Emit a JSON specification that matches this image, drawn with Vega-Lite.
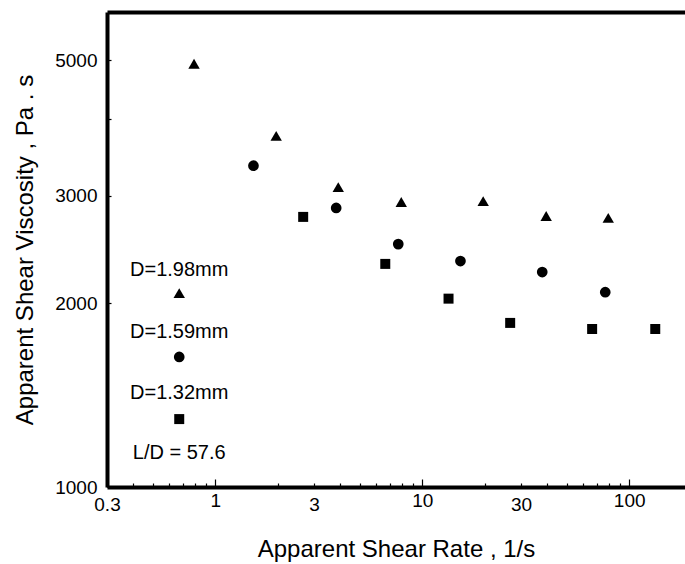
{
  "$schema": "https://vega.github.io/schema/vega-lite/v6.json",
  "width": 578,
  "height": 475,
  "autosize": {"type": "none"},
  "padding": {"left": 107, "top": 12, "right": 0, "bottom": 77},
  "background": "white",
  "config": {
    "view": {"stroke": null},
    "font": "Liberation Sans",
    "axis": {
      "labelFont": "Liberation Sans",
      "labelFontSize": 19,
      "labelColor": "black",
      "domainColor": "black",
      "domainWidth": 4,
      "tickColor": "black",
      "tickWidth": 1.2,
      "grid": false,
      "titleFont": "Liberation Sans",
      "titleFontSize": 24,
      "titleFontWeight": "normal",
      "titleColor": "black",
      "labelOverlap": false,
      "labelFlush": false
    }
  },
  "datasets": {
    "points": [
      {"series": "D=1.98mm", "rate": 0.79, "viscosity": 4935},
      {"series": "D=1.98mm", "rate": 1.97, "viscosity": 3760},
      {"series": "D=1.98mm", "rate": 3.93, "viscosity": 3100},
      {"series": "D=1.98mm", "rate": 7.92, "viscosity": 2930},
      {"series": "D=1.98mm", "rate": 19.7, "viscosity": 2940},
      {"series": "D=1.98mm", "rate": 39.7, "viscosity": 2780},
      {"series": "D=1.98mm", "rate": 79.2, "viscosity": 2760},
      {"series": "D=1.59mm", "rate": 1.53, "viscosity": 3360},
      {"series": "D=1.59mm", "rate": 3.84, "viscosity": 2865},
      {"series": "D=1.59mm", "rate": 7.66, "viscosity": 2500},
      {"series": "D=1.59mm", "rate": 15.3, "viscosity": 2345},
      {"series": "D=1.59mm", "rate": 38.0, "viscosity": 2250},
      {"series": "D=1.59mm", "rate": 76.6, "viscosity": 2085},
      {"series": "D=1.32mm", "rate": 2.66, "viscosity": 2770},
      {"series": "D=1.32mm", "rate": 6.63, "viscosity": 2320},
      {"series": "D=1.32mm", "rate": 13.4, "viscosity": 2035},
      {"series": "D=1.32mm", "rate": 26.6, "viscosity": 1857},
      {"series": "D=1.32mm", "rate": 66.2, "viscosity": 1815},
      {"series": "D=1.32mm", "rate": 133.6, "viscosity": 1815}
    ],
    "legend": [
      {"label": "D=1.98mm", "series": "D=1.98mm", "lx": 0.67, "ly": 2268, "sy": 2078},
      {"label": "D=1.59mm", "series": "D=1.59mm", "lx": 0.67, "ly": 1795, "sy": 1633},
      {"label": "D=1.32mm", "series": "D=1.32mm", "lx": 0.67, "ly": 1426, "sy": 1292},
      {"label": "L/D = 57.6", "series": null, "lx": 0.67, "ly": 1137, "sy": null}
    ]
  },
  "layer": [
    {
      "data": {"name": "points"},
      "mark": {"type": "point", "filled": true, "opacity": 1, "color": "black", "strokeWidth": 0},
      "encoding": {
        "x": {
          "field": "rate", "type": "quantitative",
          "scale": {"type": "log", "domain": [0.3, 186], "nice": false},
          "axis": {
            "orient": "bottom",
            "title": "Apparent Shear Rate  , 1/s",
            "values": [0.3, 0.4, 0.5, 0.6, 0.7, 0.8, 0.9, 1, 2, 3, 4, 5, 6, 7, 8, 9, 10, 20, 30, 40, 50, 60, 70, 80, 90, 100],
            "tickSize": {"condition": {"test": "indexof([1, 10, 100], datum.value) >= 0", "value": -8}, "value": -4},
            "labelExpr": "indexof([0.3, 1, 3, 10, 30, 100], datum.value) >= 0 ? toString(datum.value) : ''",
            "labelPadding": 12,
            "titlePadding": 23
          }
        },
        "y": {
          "field": "viscosity", "type": "quantitative",
          "title": "Apparent Shear Viscosity  , Pa . s",
          "scale": {"type": "log", "domain": [1000, 6000], "nice": false},
          "axis": {
            "orient": "left",
            "title": "Apparent Shear Viscosity  , Pa . s",
            "values": [1000, 2000, 3000, 4000, 5000],
            "tickSize": -4,
            "labelExpr": "indexof([1000, 2000, 3000, 5000], datum.value) >= 0 ? toString(datum.value) : ''",
            "labelPadding": 14,
            "titlePadding": 17
          }
        },
        "shape": {"field": "series", "type": "nominal", "scale": {"domain": ["D=1.98mm", "D=1.59mm", "D=1.32mm"], "range": ["triangle-up", "circle", "square"]}, "legend": null},
        "size": {"field": "series", "type": "nominal", "scale": {"domain": ["D=1.98mm", "D=1.59mm", "D=1.32mm"], "range": [130, 100, 70]}, "legend": null}
      }
    },
    {
      "data": {"name": "legend"},
      "mark": {"type": "text", "fontSize": 20, "font": "Liberation Sans", "color": "black", "align": "center", "baseline": "middle"},
      "encoding": {
        "x": {
          "field": "lx", "type": "quantitative",
          "scale": {"type": "log", "domain": [0.3, 186], "nice": false},
          "axis": {"orient": "top", "labels": false, "ticks": false, "title": null, "domainWidth": 4}
        },
        "y": {
          "field": "ly", "type": "quantitative",
          "title": "Apparent Shear Viscosity  , Pa . s",
          "scale": {"type": "log", "domain": [1000, 6000], "nice": false},
          "axis": {
            "orient": "left",
            "title": "Apparent Shear Viscosity  , Pa . s",
            "values": [1000, 2000, 3000, 4000, 5000],
            "tickSize": -4,
            "labelExpr": "indexof([1000, 2000, 3000, 5000], datum.value) >= 0 ? toString(datum.value) : ''",
            "labelPadding": 14,
            "titlePadding": 17
          }
        },
        "text": {"field": "label", "type": "nominal"}
      }
    },
    {
      "data": {"name": "legend"},
      "transform": [{"filter": "datum.series != null"}],
      "mark": {"type": "point", "filled": true, "opacity": 1, "color": "black", "strokeWidth": 0},
      "encoding": {
        "x": {"field": "lx", "type": "quantitative", "scale": {"type": "log", "domain": [0.3, 186], "nice": false}, "axis": null},
        "y": {
          "field": "sy", "type": "quantitative",
          "title": "Apparent Shear Viscosity  , Pa . s",
          "scale": {"type": "log", "domain": [1000, 6000], "nice": false},
          "axis": {
            "orient": "left",
            "title": "Apparent Shear Viscosity  , Pa . s",
            "values": [1000, 2000, 3000, 4000, 5000],
            "tickSize": -4,
            "labelExpr": "indexof([1000, 2000, 3000, 5000], datum.value) >= 0 ? toString(datum.value) : ''",
            "labelPadding": 14,
            "titlePadding": 17
          }
        },
        "shape": {"field": "series", "type": "nominal", "scale": {"domain": ["D=1.98mm", "D=1.59mm", "D=1.32mm"], "range": ["triangle-up", "circle", "square"]}, "legend": null},
        "size": {"field": "series", "type": "nominal", "scale": {"domain": ["D=1.98mm", "D=1.59mm", "D=1.32mm"], "range": [130, 100, 70]}, "legend": null}
      }
    }
  ],
  "resolve": {"axis": {"x": "independent", "y": "shared"}}
}
